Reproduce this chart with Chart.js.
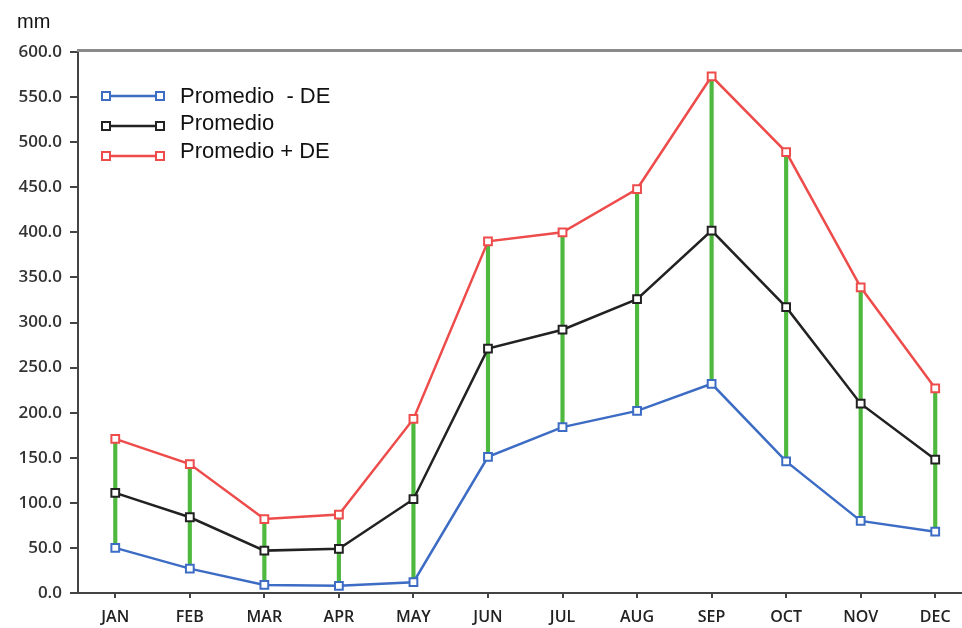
<!DOCTYPE html>
<html>
<head>
<meta charset="utf-8">
<script src="https://cdn.jsdelivr.net/npm/chart.js@4.4.0/dist/chart.umd.min.js"></script>
<style>
  html, body { margin: 0; padding: 0; background: #fff; overflow: hidden; width: 962px; height: 628px; }
  #c { display: block; }
</style>
</head>
<body>
<canvas id="c" width="980" height="628"></canvas>
<script>
const months = ['JAN','FEB','MAR','APR','MAY','JUN','JUL','AUG','SEP','OCT','NOV','DEC'];
const meanMinusSD = [50, 27, 9, 8, 12, 151, 184, 202, 232, 146, 80, 68];
const meanValues  = [111, 84, 47, 49, 104, 271, 292, 326, 402, 317, 210, 148];
const meanPlusSD  = [171, 143, 82, 87, 193, 390, 400, 448, 573, 489, 339, 227];
const yTicks = [0, 50, 100, 150, 200, 250, 300, 350, 400, 450, 500, 550, 600];
const legendLabels = ['Promedio  - DE', 'Promedio', 'Promedio + DE'];
const unitLabel = 'mm';

const BLUE = '#3d6cc4', BLACK = '#222222', RED = '#ee4b4b', GREEN = '#4fb83f';

const rangeData = months.map((m, i) => [meanMinusSD[i], meanPlusSD[i]]);

function lineDs(label, data, color, order) {
  return {
    type: 'line', label, data, order,
    borderColor: color, borderWidth: 2.5,
    pointStyle: 'rect', pointRadius: 5.5, pointBorderWidth: 2,
    pointBackgroundColor: '#fff', pointBorderColor: color,
    tension: 0, fill: false
  };
}

const decor = {
  id: 'decor',
  afterDraw(chart) {
    const ctx = chart.ctx, a = chart.chartArea;
    ctx.save();
    ctx.strokeStyle = '#8a8a8a';
    ctx.lineWidth = 3;
    ctx.beginPath();
    ctx.moveTo(a.left - 1, a.top - 1.5);
    ctx.lineTo(chart.width, a.top - 1.5);
    ctx.stroke();
    ctx.fillStyle = '#111';
    ctx.font = '20px "Liberation Sans", Arial, sans-serif';
    ctx.textBaseline = 'middle';
    ctx.textAlign = 'left';
    ctx.fillText(unitLabel, 17, 22);
    const colors = [BLUE, BLACK, RED];
    const lineYs = [96, 126, 156];
    const textYs = [97, 124, 152];
    ctx.font = '22px "Liberation Sans", Arial, sans-serif';
    for (let i = 0; i < 3; i++) {
      const y = lineYs[i];
      ctx.strokeStyle = colors[i];
      ctx.lineWidth = 2.5;
      ctx.beginPath();
      ctx.moveTo(106, y); ctx.lineTo(160, y);
      ctx.stroke();
      [106, 160].forEach(x => {
        ctx.fillStyle = '#fff';
        ctx.fillRect(x - 4, y - 4, 8, 8);
        ctx.lineWidth = 2;
        ctx.strokeRect(x - 4, y - 4, 8, 8);
      });
      ctx.fillStyle = '#111';
      ctx.fillText(legendLabels[i], 180, textYs[i]);
    }
    ctx.restore();
  }
};

new Chart(document.getElementById('c'), {
  data: {
    labels: months,
    datasets: [
      {
        type: 'bar', label: 'range', data: rangeData, order: 10,
        backgroundColor: GREEN, borderWidth: 0, barThickness: 3.5, borderSkipped: false
      },
      lineDs(legendLabels[0], meanMinusSD, BLUE, 3),
      lineDs(legendLabels[1], meanValues, BLACK, 2),
      lineDs(legendLabels[2], meanPlusSD, RED, 1)
    ]
  },
  options: {
    responsive: false,
    animation: false,
    layout: { padding: { left: 0, right: 6, top: 52, bottom: 0 } },
    plugins: { legend: { display: false }, tooltip: { enabled: false } },
    scales: {
      x: {
        type: 'category',
        offset: true,
        grid: { display: true, drawOnChartArea: false, drawTicks: true, tickLength: 5, color: '#444', lineWidth: 2, offset: false },
        border: { display: true, color: '#444', width: 2 },
        ticks: { color: '#222', font: { family: '"Open Sans", sans-serif', size: 16, weight: '600' }, padding: 10, maxRotation: 0 },
        afterFit(s) { s.height = 35; }
      },
      y: {
        min: 0, max: 600,
        afterBuildTicks(s) { s.ticks = yTicks.map(v => ({ value: v })); },
        grid: { display: true, drawOnChartArea: false, drawTicks: true, tickLength: 8, color: '#444', lineWidth: 2 },
        border: { display: true, color: '#444', width: 2 },
        ticks: {
          color: '#333', font: { family: '"Open Sans", sans-serif', size: 17, weight: '600' }, padding: 8,
          callback: v => Number(v).toFixed(1)
        },
        afterFit(s) { s.width = 78; }
      }
    }
  },
  plugins: [decor]
});
</script>
</body>
</html>
